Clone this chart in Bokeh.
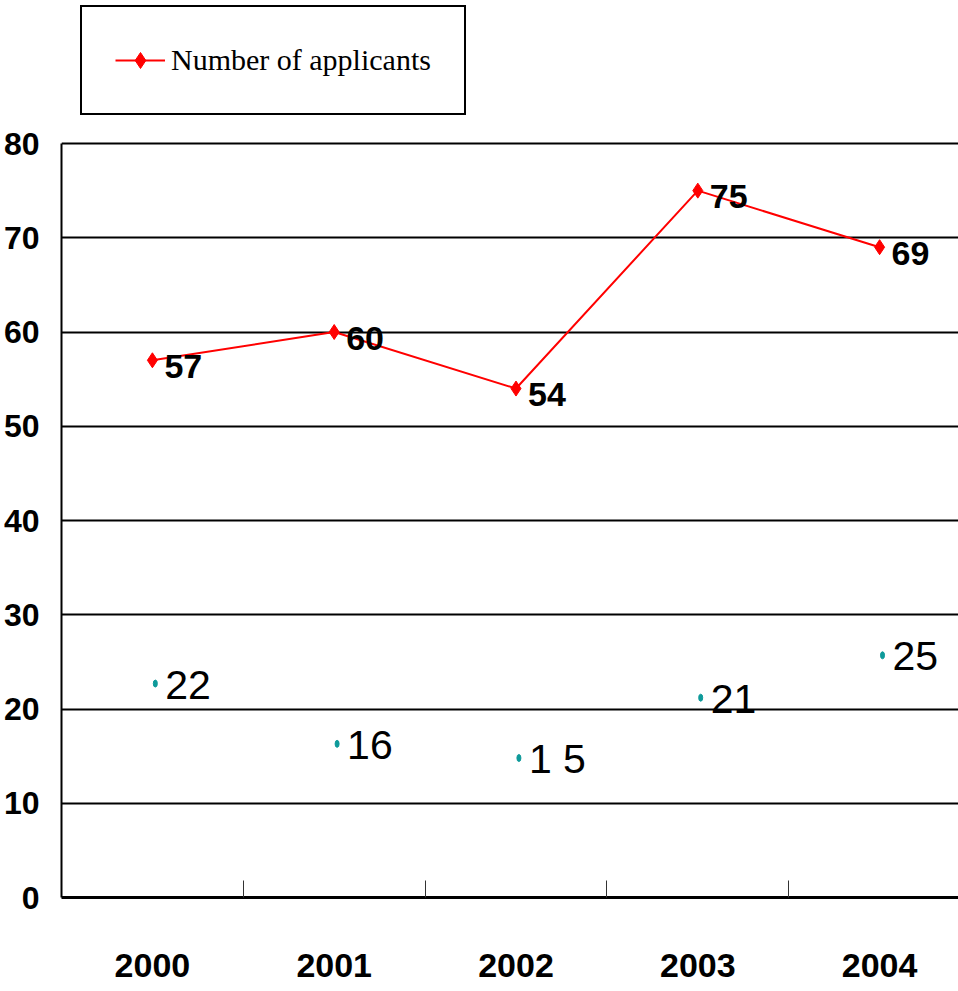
from bokeh.plotting import figure
from bokeh.models import Range1d, FixedTicker, Legend, LegendItem, LinearAxis, Grid, ColumnDataSource
from bokeh.core.properties import value
from bokeh.transform import dodge
from bokeh.embed import file_html
from bokeh.resources import INLINE

# ---- data ----
years = ["2000", "2001", "2002", "2003", "2004"]
applicants = [57, 60, 54, 75, 69]
second_values = [22.7, 16.3, 14.8, 21.2, 25.7]
second_labels = ["22", "16", "1 5", "21", "25"]
y_ticks = [0, 10, 20, 30, 40, 50, 60, 70, 80]

SANS = "Liberation Sans"
SERIF = "Liberation Serif"

centers = [i + 0.5 for i in range(len(years))]
boundaries = [i for i in range(1, len(years))]

src_a = ColumnDataSource(dict(x=centers, y=applicants, t=[str(v) for v in applicants]))
src_b = ColumnDataSource(dict(x=centers, y=second_values, t=second_labels))

# frame spans from the top of the page down to the x axis; the value axis stops at 80
FRAME_BOTTOM = 897
TOP_OF_SCALE = 143
y_end = max(y_ticks) * FRAME_BOTTOM / (FRAME_BOTTOM - TOP_OF_SCALE)

p = figure(width=958, height=991, x_range=Range1d(0, 4.934), y_range=Range1d(0, y_end),
           output_backend="svg", toolbar_location=None,
           x_axis_type=None, y_axis_type=None,
           min_border_left=60, min_border_right=0, min_border_top=0, min_border_bottom=94)
p.outline_line_color = None
p.background_fill_color = "white"

# y axis
yaxis = LinearAxis(ticker=FixedTicker(ticks=y_ticks), bounds=(0, max(y_ticks)))
yaxis.axis_line_color = "black"
yaxis.axis_line_width = 2
yaxis.major_tick_line_color = None
yaxis.minor_tick_line_color = None
yaxis.major_tick_in = 0
yaxis.major_tick_out = 0
yaxis.minor_tick_in = 0
yaxis.minor_tick_out = 0
yaxis.major_label_standoff = 22
yaxis.major_label_text_font = SANS
yaxis.major_label_text_font_style = "bold"
yaxis.major_label_text_font_size = "32px"
yaxis.major_label_text_color = "black"
p.add_layout(yaxis, "left")

# x axis
xaxis = LinearAxis(ticker=FixedTicker(ticks=centers, minor_ticks=boundaries))
xaxis.major_label_overrides = {c: y for c, y in zip(centers, years)}
xaxis.axis_line_color = "black"
xaxis.axis_line_width = 3
xaxis.major_tick_line_color = None
xaxis.major_tick_in = 0
xaxis.major_tick_out = 0
xaxis.minor_tick_in = 17
xaxis.minor_tick_out = 0
xaxis.minor_tick_line_color = "#333333"
xaxis.minor_tick_line_width = 1
xaxis.major_label_standoff = 56
xaxis.major_label_text_font = SANS
xaxis.major_label_text_font_style = "bold"
xaxis.major_label_text_font_size = "34px"
xaxis.major_label_text_color = "black"
p.add_layout(xaxis, "below")

grid = Grid(dimension=1, ticker=yaxis.ticker)
grid.grid_line_color = "black"
grid.grid_line_width = 2
p.add_layout(grid)

# red series
line_r = p.line("x", "y", source=src_a, line_color="#ff0000", line_width=2)
mark_r = p.scatter("x", "y", source=src_a, marker="diamond", size=15,
                   fill_color="#ff0000", line_color="#ff0000")
p.text("x", "y", text="t", source=src_a, x_offset=12, y_offset=6,
       text_baseline="middle", text_align="left",
       text_font=value(SANS), text_font_style="bold", text_font_size="34px",
       text_color="black")

# teal points
p.ellipse(x=dodge("x", 0.016, range=p.x_range), y="y", source=src_b,
          width=4, height=7, width_units="screen", height_units="screen",
          fill_color="#0e9a9a", line_color="#0e9a9a")
p.text(x=dodge("x", 0.016, range=p.x_range), y="y", text="t", source=src_b,
       x_offset=10, y_offset=1, text_baseline="middle", text_align="left",
       text_font=value(SANS), text_font_size="41px", text_color="black")

legend = Legend(items=[LegendItem(label="Number of applicants", renderers=[line_r, mark_r])],
                location=(19, FRAME_BOTTOM - 115))
legend.border_line_color = "black"
legend.border_line_alpha = 1
legend.border_line_width = 2
legend.background_fill_color = "white"
legend.background_fill_alpha = 1
legend.label_text_font = SERIF
legend.label_text_font_size = "30px"
legend.label_text_color = "black"
legend.glyph_width = 50
legend.glyph_height = 40
legend.label_height = 40
legend.label_standoff = 6
legend.padding = 33
legend.margin = 0
p.add_layout(legend, "center")

open("out.html", "w").write(file_html(p, INLINE))
